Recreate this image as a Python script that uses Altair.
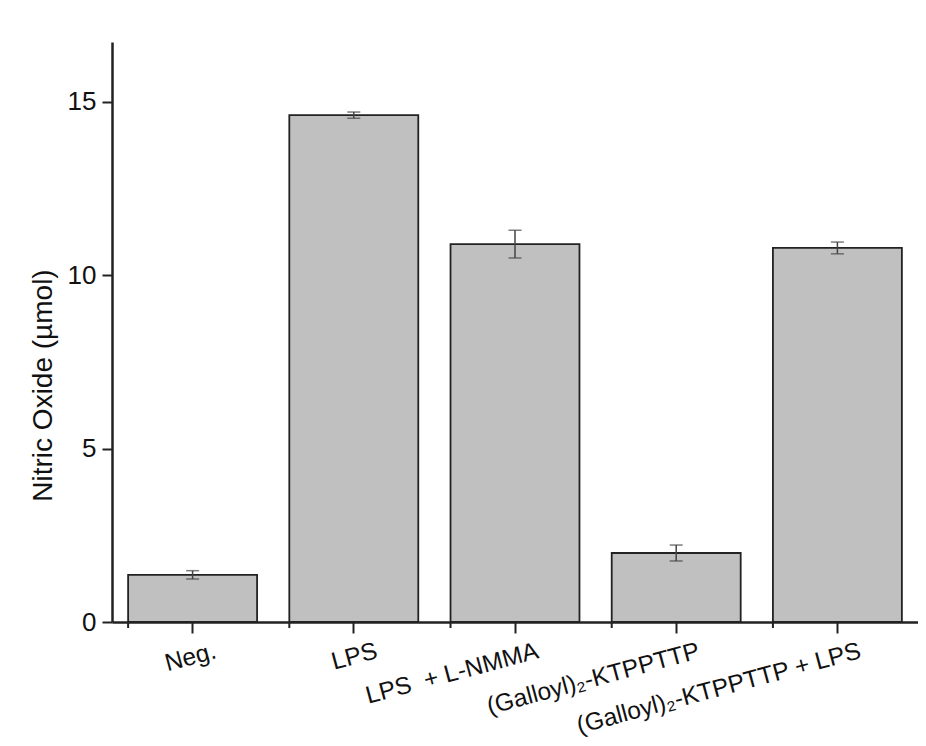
import altair as alt
import pandas as pd

categories = ["Neg.", "LPS", "LPS\u00a0\u00a0+ L-NMMA", "(Galloyl)₂-KTPPTTP", "(Galloyl)₂-KTPPTTP + LPS"]
values = [1.36, 14.62, 10.90, 1.99, 10.79]
errors = [0.12, 0.09, 0.40, 0.23, 0.17]
y_ticks = [0, 5, 10, 15]

df = pd.DataFrame({"cat": categories, "val": values, "err": errors})
df["lo"] = df["val"] - df["err"]
df["hi"] = df["val"] + df["err"]

W, H = 806, 580
FONT = "Liberation Sans"

xscale = alt.Scale(domain=categories, paddingInner=0.2, paddingOuter=0.1)
yscale = alt.Scale(domain=[0, 16.73], nice=False, zero=True)

x_enc = alt.X("cat:N", sort=categories, scale=xscale, title=None,
              axis=alt.Axis(labelAngle=-15, labelAlign="right", labelBaseline="top",
                            labelFontSize=24.5, labelFont=FONT, labelColor="#111",
                            labelOffset=20, labelPadding=6, tickSize=11, tickWidth=2,
                            tickColor="#222", domainColor="#222", domainWidth=2.5,
                            labelOverlap=False, labelLimit=0))

bars = alt.Chart(df).mark_bar(fill="#c0c0c0", stroke="#222", strokeWidth=1.8).encode(
    x=x_enc,
    y=alt.Y("val:Q", scale=yscale, title="Nitric Oxide (µmol)",
            axis=alt.Axis(values=y_ticks, labelFontSize=26, labelFont=FONT, labelColor="#111",
                          titleFontSize=28, titleFont=FONT, titleFontWeight="normal",
                          titleColor="#111", titlePadding=10, titleY=343, tickSize=10, tickWidth=2,
                          tickColor="#222", domainColor="#222", domainWidth=2.5,
                          grid=False, labelPadding=6))
)

err_rule = alt.Chart(df).mark_rule(color="#444", strokeWidth=1.5).encode(
    x=alt.X("cat:N", sort=categories, scale=xscale),
    y=alt.Y("lo:Q", scale=yscale),
    y2="hi:Q",
)
cap_lo = alt.Chart(df).mark_tick(color="#444", thickness=1.5, size=13, orient="horizontal").encode(
    x=alt.X("cat:N", sort=categories, scale=xscale),
    y=alt.Y("lo:Q", scale=yscale),
)
cap_hi = alt.Chart(df).mark_tick(color="#444", thickness=1.5, size=13, orient="horizontal").encode(
    x=alt.X("cat:N", sort=categories, scale=xscale),
    y=alt.Y("hi:Q", scale=yscale),
)

minor = alt.Chart(df).mark_rule(color="#222", strokeWidth=2).encode(
    x=alt.X("cat:N", sort=categories, scale=xscale, bandPosition=0),
    y=alt.value(H),
    y2=alt.value(H + 6),
)

chart = alt.layer(bars, err_rule, cap_lo, cap_hi, minor).properties(
    width=W, height=H,
    background="white",
    autosize=alt.AutoSizeParams(type="none"),
    padding={"left": 104, "top": 34, "right": 0, "bottom": 116},
).configure_view(strokeWidth=0, stroke="transparent")

chart.save("out.html", embed_options={"renderer": "svg", "actions": False})
